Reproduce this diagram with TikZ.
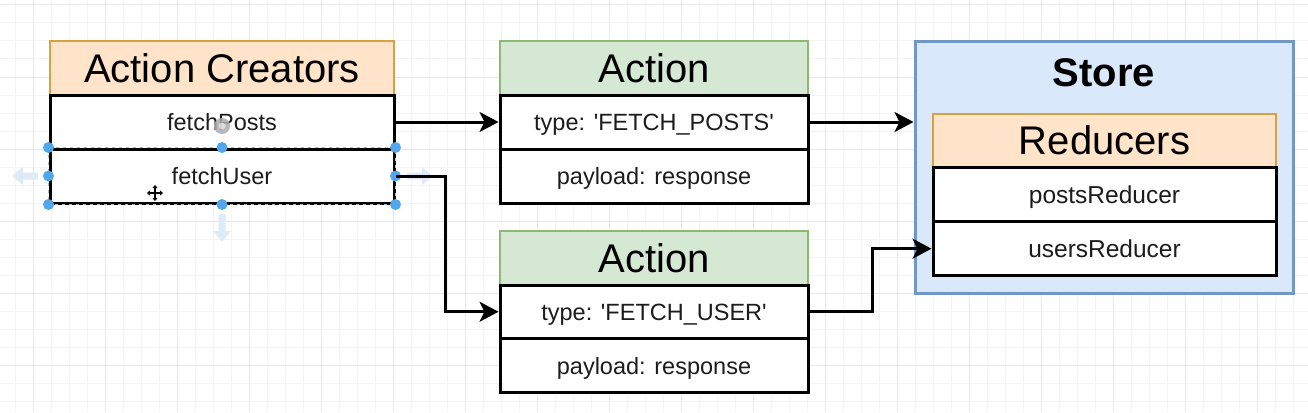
\documentclass[tikz,border=0pt]{standalone}
\usepackage{fontspec}
\setmainfont{Liberation Sans}
\usetikzlibrary{arrows.meta,calc}
\definecolor{orfill}{HTML}{FFE4C9}
\definecolor{ordraw}{HTML}{D8A040}
\definecolor{grfill}{HTML}{D5E8D4}
\definecolor{grdraw}{HTML}{8DB872}
\definecolor{blfill}{HTML}{DAE8FC}
\definecolor{bldraw}{HTML}{7196C8}
\definecolor{handle}{HTML}{52A6EC}
\definecolor{hover}{HTML}{DDEBF9}
\definecolor{gridminor}{HTML}{F4F4F4}
\definecolor{gridmajor}{HTML}{E8E8E8}
\definecolor{rowtext}{HTML}{1C1C1C}
\newcommand\myHead{\fontsize{40}{44}\selectfont}
\newcommand\myRow{\fontsize{23.5}{26}\selectfont}
\tikzset{
  headbox/.style={draw, line width=2pt, inner sep=0pt, text height=28.5pt, text depth=0pt, font=\myHead, text=black},
  orhead/.style={headbox, fill=orfill, draw=ordraw},
  grhead/.style={headbox, fill=grfill, draw=grdraw},
  rowbox/.style={draw=black, fill=white, line width=3pt, inner sep=0pt, text height=17pt, text depth=0pt, font=\myRow, text=rowtext},
  conn/.style={draw=black, line width=3pt, -{Stealth[length=19pt,width=20pt,inset=5pt]}},
  hnd/.style={fill=handle, draw=none},
}
\begin{document}
\begin{tikzpicture}[x=1pt,y=-1pt]
\useasboundingbox (0,0) rectangle (1308,412);
\fill[white] (0,0) rectangle (1308,412);
% grid
\foreach \gx in {15,33,...,1308} \draw[gridminor, line width=1pt] (\gx,0) -- (\gx,412);
\foreach \gy in {5,23,...,412} \draw[gridminor, line width=1pt] (0,\gy) -- (1308,\gy);
\foreach \gx in {33,105,...,1308} \draw[gridmajor, line width=1pt] (\gx,0) -- (\gx,412);
\foreach \gy in {5,77,...,412} \draw[gridmajor, line width=1pt] (0,\gy) -- (1308,\gy);

% hover arrows around the selected row
\fill[hover] (12,176) -- (23,167) -- (23,172.5) -- (38,172.5) -- (38,179.5) -- (23,179.5) -- (23,185) -- cycle;
\fill[hover] (433,176) -- (422,167) -- (422,172.5) -- (407,172.5) -- (407,179.5) -- (422,179.5) -- (422,185) -- cycle;
\fill[hover] (222,242) -- (213,231) -- (218.5,231) -- (218.5,214) -- (225.5,214) -- (225.5,231) -- (231,231) -- cycle;

% Action Creators
\node[orhead, minimum width=344pt, minimum height=53.5pt] (ach) at (222,68.25) {Action Creators};
\node[rowbox, minimum width=344pt, minimum height=54pt] (fp) at (222,122) {fetchPosts};
\node[rowbox, minimum width=344pt, minimum height=54pt] (fu) at (222,176) {fetchUser};

% Action 1
\node[grhead, minimum width=308pt, minimum height=53.5pt] (a1h) at (654,68.25) {Action};
\node[rowbox, minimum width=308pt, minimum height=54pt] (a1t) at (654,122) {type: \textquotesingle FETCH\_POSTS\textquotesingle};
\node[rowbox, minimum width=308pt, minimum height=54pt] (a1p) at (654,176) {payload: response};

% Action 2
\node[grhead, minimum width=308pt, minimum height=54.5pt] (a2h) at (654,257.75) {Action};
\node[rowbox, minimum width=308pt, minimum height=53.5pt] (a2t) at (654,311.75) {type: \textquotesingle FETCH\_USER\textquotesingle};
\node[rowbox, minimum width=308pt, minimum height=54pt] (a2p) at (654,365.5) {payload: response};

% Store
\node[draw=bldraw, fill=blfill, line width=3pt, minimum width=378pt, minimum height=251pt, inner sep=0pt] (store) at (1104,167.5) {};
\node[font=\myHead\bfseries, text height=28.5pt, text depth=0pt, inner sep=0pt] (storelbl) at (1104,72) {Store};
\node[orhead, minimum width=343pt, minimum height=53pt] (rh) at (1104.5,140.5) {Reducers};
\node[rowbox, minimum width=343pt, minimum height=54.5pt, font=\fontsize{24.5}{27}\selectfont] (pr) at (1104.5,194.5) {postsReducer};
\node[rowbox, minimum width=343pt, minimum height=54pt, font=\fontsize{24.5}{27}\selectfont] (ur) at (1104.5,248.7) {usersReducer};

% selection on fetchUser
\draw[gray!55, line width=1.2pt, dash pattern=on 3pt off 4pt] (fu.north west) rectangle (fu.south east);
\foreach \a in {north west,north,north east,west,east,south west,south,south east}
  \fill[hnd] (fu.\a) circle (5.5pt);

% cursors
\fill[gray!65, opacity=0.85] (222,126) circle (8pt);
\fill[white, opacity=0.55] (222,126) circle (3.5pt);
\begin{scope}[line width=1.6pt, black]
  \draw[{Triangle[length=3pt,width=5pt]}-{Triangle[length=3pt,width=5pt]}] (147,193) -- (163,193);
  \draw[{Triangle[length=3pt,width=5pt]}-{Triangle[length=3pt,width=5pt]}] (155,185) -- (155,201);
\end{scope}

% connectors
\coordinate (b1) at (445,0);
\coordinate (b2) at (872,0);
\draw[conn] (fp.east) -- (a1t.west);
\draw[conn] (fu.east) -- (fu.east -| b1) -- (b1 |- a2t.west) -- (a2t.west);
\draw[conn] (a1t.east) -- (a1t.east -| store.west);
\draw[conn] (a2t.east) -- (a2t.east -| b2) -- (b2 |- ur.west) -- (ur.west);
\end{tikzpicture}
\end{document}
